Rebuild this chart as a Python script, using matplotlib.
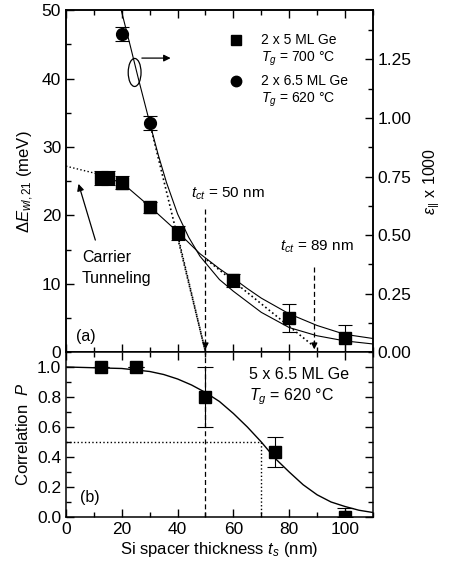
import matplotlib
matplotlib.use("Agg")
import matplotlib.pyplot as plt
from matplotlib.patches import Ellipse
from matplotlib.ticker import MultipleLocator, FormatStrFormatter

plt.rcParams['font.family'] = ['Liberation Sans', 'DejaVu Sans']
plt.rcParams['mathtext.fontset'] = 'custom'
plt.rcParams['mathtext.rm'] = 'Liberation Sans'
plt.rcParams['mathtext.it'] = 'Liberation Sans:italic'
plt.rcParams['mathtext.sf'] = 'Liberation Sans'

# (a) 2 x 5 ML Ge, Tg = 700 C : wetting-layer splitting
sq_t = [12.5, 15, 20, 30, 40, 60, 80, 100]
sq_dE = [25.5, 25.5, 24.8, 21.2, 17.4, 10.5, 5.0, 2.0]
sq_err = [1.0, 1.0, 1.0, 0.8, 1.0, 1.0, 2.0, 2.0]

# (a) 2 x 6.5 ML Ge, Tg = 620 C : in-plane strain (right axis)
circ_t = [20, 30]
circ_eps = [1.36, 0.98]
circ_err = [0.03, 0.03]

# fitted curves
fit_dE_t = [12.5, 15, 20, 30, 40, 44, 48, 55, 60, 65, 70, 80, 90, 100, 110]
fit_dE = [25.6, 25.4, 24.8, 21.3, 17.6, 16.0, 14.4, 12.2, 10.8, 9.3, 7.9, 5.6, 3.9, 2.6, 2.0]
fit_eps_t = [19.8, 23, 26, 30, 33, 36, 40, 44, 48, 55, 60, 70, 80, 90, 100, 110]
fit_eps = [1.46, 1.31, 1.165, 0.98, 0.845, 0.725, 0.59, 0.49, 0.41, 0.31, 0.26, 0.17, 0.105, 0.07, 0.048, 0.035]

# (b) 5 x 6.5 ML Ge, Tg = 620 C : vertical correlation
corr_t = [12.5, 25, 50, 75, 100]
corr_P = [1.0, 1.0, 0.8, 0.43, 0.0]
corr_err_lo = [0.0, 0.0, 0.2, 0.1, 0.0]
corr_err_hi = [0.0, 0.0, 0.2, 0.1, 0.06]
fit_P_t = [0, 10, 20, 30, 35, 40, 45, 50, 52.5, 55, 57.5, 60, 62.5, 65, 67.5, 70, 72.5,
           75, 77.5, 80, 85, 90, 95, 100, 105, 110]
fit_P = [1.0, 0.995, 0.99, 0.97, 0.95, 0.92, 0.88, 0.83, 0.80, 0.77, 0.73, 0.69, 0.645,
         0.60, 0.55, 0.50, 0.445, 0.39, 0.345, 0.30, 0.215, 0.148, 0.10, 0.07, 0.045, 0.03]

t_ct1 = 50
t_ct2 = 89
P_half_t = 70

fig = plt.figure(figsize=(4.52, 5.68), dpi=100)
ax1 = fig.add_axes([0.146, 0.380, 0.679, 0.602])
ax1r = ax1.twinx()
ax2 = fig.add_axes([0.146, 0.0898, 0.679, 0.2905])

lw = 0.8
ebar = dict(fmt='none', ecolor='black', elinewidth=0.8, capsize=5, capthick=0.8)

# --- panel (a)
ax1.plot(fit_dE_t, fit_dE, color='black', lw=lw)
ax1.errorbar(sq_t, sq_dE, yerr=sq_err, **ebar)
ax1.plot(sq_t, sq_dE, 's', color='black', ms=8.5, mec='black')

ax1r.plot(fit_eps_t, fit_eps, color='black', lw=lw)
ax1r.errorbar(circ_t, circ_eps, yerr=circ_err, **ebar)
ax1r.plot(circ_t, circ_eps, 'o', color='black', ms=8.5)

# extrapolations
ax1.plot([0, 11], [27.2, 26.1], ':', color='black', lw=1)
ax1.plot([40.5, t_ct1], [16.3, 0], ':', color='black', lw=1.2)
ax1r.plot([30, t_ct1], [0.98, 0], ':', color='black', lw=1.2)
ax1.plot([50.5, t_ct2], [13.5, 0.8], ':', color='black', lw=1.2)

# critical thickness markers
ax1.plot([t_ct1, t_ct1], [21.0, 1.5], '--', color='black', lw=0.9, dashes=(4, 2.5))
ax1.annotate('', xy=(t_ct1, 0), xytext=(t_ct1, 2.0),
             arrowprops=dict(arrowstyle='-|>', color='black', lw=0.9, mutation_scale=9))
ax1.plot([t_ct2, t_ct2], [12.4, 1.5], '--', color='black', lw=0.9, dashes=(4, 2.5))
ax1.annotate('', xy=(t_ct2, 0), xytext=(t_ct2, 2.0),
             arrowprops=dict(arrowstyle='-|>', color='black', lw=0.9, mutation_scale=9))
ax1.text(58, 23.2, r'$t_{ct}$ = 50 nm', fontsize=11, ha='center', va='center')
ax1.text(90, 15.4, r'$t_{ct}$ = 89 nm', fontsize=11, ha='center', va='center')

# ellipse marking the strain curve, arrow to right axis
ax1.add_patch(Ellipse((24.6, 40.9), 4.6, 4.1, fill=False, ec='black', lw=0.9))
ax1.annotate('', xy=(38.5, 43.0), xytext=(26.2, 43.0),
             arrowprops=dict(arrowstyle='-|>', color='black', lw=0.9, mutation_scale=10))

# carrier tunneling
ax1.annotate('', xy=(4.2, 25.0), xytext=(10.8, 16.0),
             arrowprops=dict(arrowstyle='-|>', color='black', lw=0.9, mutation_scale=10))
ax1.text(5.7, 13.9, 'Carrier', fontsize=11.5, va='center')
ax1.text(5.7, 10.8, 'Tunneling', fontsize=11.5, va='center')
ax1.text(3.6, 2.3, '(a)', fontsize=11.5, va='center')

# legend
ax1.plot([61], [45.6], 's', color='black', ms=7)
ax1.plot([61], [39.6], 'o', color='black', ms=7.5)
ax1.text(70, 45.6, '2 x 5 ML Ge', fontsize=10, va='center')
ax1.text(70, 42.9, r'$T_g$ = 700 °C', fontsize=10, va='center')
ax1.text(70, 39.6, '2 x 6.5 ML Ge', fontsize=10, va='center')
ax1.text(70, 36.9, r'$T_g$ = 620 °C', fontsize=10, va='center')

ax1.set_xlim(0, 110)
ax1.set_ylim(0, 50)
ax1r.set_ylim(0, 1.46)
ax1.xaxis.set_major_locator(MultipleLocator(20))
ax1.xaxis.set_minor_locator(MultipleLocator(10))
ax1.yaxis.set_major_locator(MultipleLocator(10))
ax1.yaxis.set_minor_locator(MultipleLocator(5))
ax1r.yaxis.set_major_locator(MultipleLocator(0.25))
ax1r.yaxis.set_minor_locator(MultipleLocator(0.125))
ax1r.yaxis.set_major_formatter(FormatStrFormatter('%.2f'))
ax1.tick_params(which='both', direction='in', top=True, right=False, labelbottom=False)
ax1.tick_params(which='major', length=6, width=1, labelsize=12.5)
ax1.tick_params(which='minor', length=3.5, width=1)
ax1r.tick_params(which='both', direction='in')
ax1r.tick_params(which='major', length=6, width=1, labelsize=12.5)
ax1r.tick_params(which='minor', length=3.5, width=1)
ax1.set_ylabel(r'$\Delta E_{wl,21}$ (meV)', fontsize=12)
ax1r.set_ylabel(r'$\varepsilon_{||}$ x 1000', fontsize=11.5, labelpad=7)

# --- panel (b)
ax2.plot(fit_P_t, fit_P, color='black', lw=1.0)
ax2.errorbar(corr_t, corr_P, yerr=[corr_err_lo, corr_err_hi], **dict(ebar, capsize=6))
ax2.plot(corr_t, corr_P, 's', color='black', ms=8.5, zorder=5)
ax2.plot([0, P_half_t], [0.5, 0.5], ':', color='black', lw=1)
ax2.plot([P_half_t, P_half_t], [0, 0.5], ':', color='black', lw=1)
ax2.plot([t_ct1, t_ct1], [0, 1.1], '--', color='black', lw=0.9, dashes=(4, 2.5))
ax2.text(65.5, 0.95, '5 x 6.5 ML Ge', fontsize=11.5, va='center')
ax2.text(65.5, 0.80, r'$T_g$ = 620 °C', fontsize=11.5, va='center')
ax2.text(5.0, 0.13, '(b)', fontsize=11.5, va='center')

ax2.set_xlim(0, 110)
ax2.set_ylim(0, 1.1)
ax2.xaxis.set_major_locator(MultipleLocator(20))
ax2.xaxis.set_minor_locator(MultipleLocator(10))
ax2.yaxis.set_major_locator(MultipleLocator(0.2))
ax2.yaxis.set_minor_locator(MultipleLocator(0.1))
ax2.yaxis.set_major_formatter(FormatStrFormatter('%.1f'))
ax2.tick_params(which='both', direction='in', top=True, right=True)
ax2.tick_params(which='major', length=6, width=1, labelsize=12.5)
ax2.tick_params(which='minor', length=3.5, width=1)
ax2.set_ylabel(r'Correlation  $P$', fontsize=12)
ax2.set_xlabel(r'Si spacer thickness $t_s$ (nm)', fontsize=12, labelpad=2)

for ax in (ax1, ax1r, ax2):
    for s in ax.spines.values():
        s.set_linewidth(1.1)

fig.savefig('out.png', dpi=100)
